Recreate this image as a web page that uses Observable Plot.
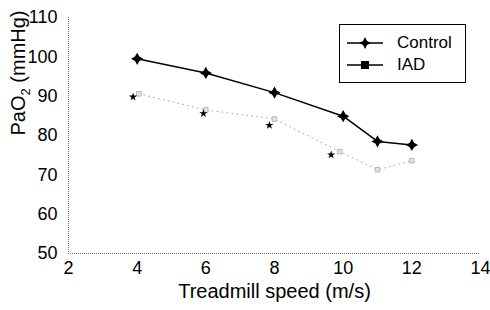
<!DOCTYPE html>
<html><head><meta charset="utf-8">
<script src="https://cdn.jsdelivr.net/npm/d3@7"></script>
<script src="https://cdn.jsdelivr.net/npm/@observablehq/plot@0.6"></script>
<style>
body{margin:0;background:#fff;font-family:"Liberation Sans",Arial,sans-serif;}
#wrap{position:relative;width:490px;height:310px;}
#wrap svg g[aria-label="x-axis tick label"], #wrap svg g[aria-label="y-axis tick label"]{font-size:18px !important;}
#legend{position:absolute;left:339px;top:24px;width:127px;height:59px;border:1.2px solid #000;background:#fff;box-sizing:border-box;font-size:17px;color:#000;}
#legend div{position:absolute;left:0;display:flex;align-items:center;}
</style></head><body>
<div id="wrap"></div>
<script>
const speedControl = [4, 6, 8, 10, 11, 12];
const paO2Control = [99.5, 95.9, 90.9, 84.9, 78.5, 77.6];
const speedIAD = [4.05, 6, 8, 9.9, 11, 12];
const paO2IAD = [90.6, 86.5, 84.2, 75.9, 71.3, 73.6];
const speedSig = [3.88, 5.93, 7.85, 9.65];
const paO2Sig = [89.8, 85.6, 82.6, 75.1];
const xTicks = [2, 4, 6, 8, 10, 12, 14];
const yTicks = [50, 60, 70, 80, 90, 100, 110];

const control = speedControl.map((s, i) => ({s, v: paO2Control[i]}));
const iad = speedIAD.map((s, i) => ({s, v: paO2IAD[i]}));
const sig = speedSig.map((s, i) => ({s, v: paO2Sig[i]}));

const star4 = {
  draw(ctx, size) {
    const r = Math.sqrt(size) * 0.75, k = r * 0.36;
    ctx.moveTo(0, -r);
    ctx.lineTo(k, -k); ctx.lineTo(r, 0); ctx.lineTo(k, k);
    ctx.lineTo(0, r); ctx.lineTo(-k, k); ctx.lineTo(-r, 0); ctx.lineTo(-k, -k);
    ctx.closePath();
  }
};

const chart = Plot.plot({
  width: 490, height: 310,
  marginLeft: 68, marginRight: 10, marginTop: 17, marginBottom: 57,
  style: {fontFamily: '"Liberation Sans", Arial, sans-serif', fontSize: "18px", color: "#000", background: "#fff", overflow: "visible"},
  x: {domain: [2, 14]},
  y: {domain: [50, 110]},
  marks: [
    Plot.ruleX([2], {stroke: "#777", strokeDasharray: "1,1"}),
    Plot.ruleY([50], {stroke: "#777", strokeDasharray: "1,1"}),
    Plot.axisX({ticks: xTicks, tickSize: 0, tickPadding: 8, fontSize: 18, label: null}),
    Plot.text(["Treadmill speed (m/s)"], {frameAnchor: "bottom", dy: 44, fontSize: 20, text: d => d}),
    Plot.axisY({ticks: yTicks, tickSize: 0, tickPadding: 11, fontSize: 18, label: null}),
    Plot.text(["PaO2 (mmHg)"], {frameAnchor: "left", dx: -50, rotate: -90, fontSize: 20, text: d => d, className: "ylab"}),
    Plot.line(iad, {x: "s", y: "v", stroke: "#aaa", strokeWidth: 1, strokeDasharray: "1,4"}),
    Plot.dot(iad, {x: "s", y: "v", symbol: "square", r: 2.6, fill: "#e4e4e4", stroke: "#aaa", strokeWidth: 0.8}),
    Plot.dot(sig, {x: "s", y: "v", symbol: "star", r: 2.6, fill: "#000"}),
    Plot.line(control, {x: "s", y: "v", stroke: "#000", strokeWidth: 1.5}),
    Plot.dot(control, {x: "s", y: "v", symbol: star4, r: 4.6, fill: "#000"})
  ]
});
// subscript in y label
const yl = chart.querySelector(".ylab text");
if (yl) {
  yl.textContent = "";
  const NS = "http://www.w3.org/2000/svg";
  const a = document.createElementNS(NS, "tspan"); a.textContent = "PaO";
  const b = document.createElementNS(NS, "tspan"); b.textContent = "2"; b.setAttribute("font-size", "13"); b.setAttribute("dy", "5");
  const c = document.createElementNS(NS, "tspan"); c.textContent = " (mmHg)"; c.setAttribute("dy", "-5");
  yl.append(a, b, c);
}
chart.querySelectorAll('g[aria-label="x-axis tick label"], g[aria-label="y-axis tick label"]').forEach(g => g.setAttribute("font-size", "18"));
const wrap = document.getElementById("wrap");
wrap.appendChild(chart);
const lg = document.createElement("div");
lg.id = "legend";
lg.innerHTML = `
<div style="top:8px"><svg width="57" height="18"><line x1="7" y1="9" x2="43" y2="9" stroke="#000" stroke-width="1.3"/><path d="M25,3 L27,7 L31,9 L27,11 L25,15 L23,11 L19,9 L23,7 Z" fill="#000"/></svg><span>Control</span></div>
<div style="top:30px"><svg width="57" height="18"><line x1="7" y1="9" x2="43" y2="9" stroke="#000" stroke-width="1.3"/><rect x="21" y="5" width="8" height="8" fill="#000"/></svg><span>IAD</span></div>`;
wrap.appendChild(lg);
</script>
</body></html>
